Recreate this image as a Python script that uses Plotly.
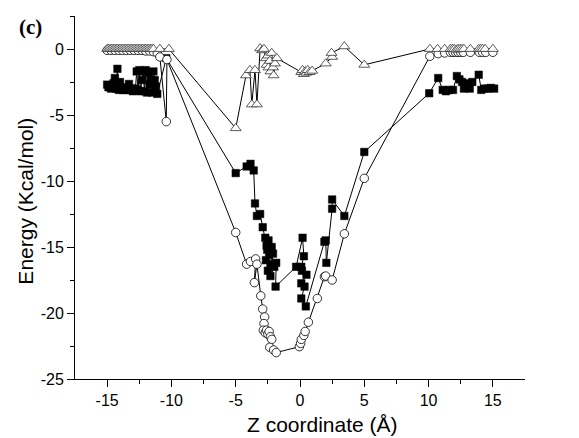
import plotly.graph_objects as go

# ---------------- data ----------------
sq_x = [-15.0, -14.9, -14.8, -14.7, -14.6, -14.5, -14.4, -14.3, -14.2, -14.1, -14.0, -13.9, -13.8,
        -13.7, -13.6, -13.5, -13.4, -13.3, -13.2, -13.1, -13.0, -12.9, -12.8, -12.7, -12.6, -12.5,
        -12.4, -12.3, -12.2, -12.1, -12.0, -11.9, -11.8, -11.7, -11.6, -11.5, -11.4, -11.3, -11.2,
        -11.1, -10.4,
        -5.0, -4.15, -3.85, -3.6, -3.5, -3.35, -3.1, -2.9, -2.7, -2.6, -2.45, -2.55, -2.4, -2.2,
        -2.65, -2.3, -2.5, -2.1, -2.3, -2.0, -1.85, -1.9,
        -0.3, 0.2, 0.3, 0.1, 0.15, 0.5, 0.1, 0.35, 0.1, 0.45,
        1.9, 2.0, 2.05, 2.5, 2.5, 3.45, 5.0,
        10.05, 10.75, 11.1, 11.35, 11.6, 11.9, 12.2, 12.4, 12.6, 12.75, 12.95, 13.2, 13.4, 13.9,
        14.1, 14.35, 14.6, 14.85, 15.1]
sq_y = [-2.7, -2.9, -2.8, -3.0, -2.9, -2.6, -2.2, -3.0, -1.5, -3.1, -2.5, -3.0, -3.1,
        -2.9, -3.1, -3.0, -3.1, -2.65, -3.1, -3.0, -3.2, -3.1, -3.0, -1.7, -3.1, -1.6,
        -3.2, -2.35, -1.7, -3.2, -1.6, -3.3, -1.8, -2.7, -2.35, -3.3, -1.7, -2.35, -2.85,
        -3.4, -0.7,
        -9.4, -8.9, -8.7, -9.2, -11.7, -12.65, -12.5, -13.5, -14.3, -14.9, -14.5, -15.2, -15.6, -15.0,
        -16.0, -16.3, -16.8, -15.5, -17.2, -16.5, -16.2, -18.0,
        -16.5, -14.3, -15.7, -16.5, -16.8, -17.1, -17.75, -18.0, -18.9, -19.5,
        -14.6, -14.5, -16.2, -12.1, -11.4, -12.65, -7.8,
        -3.35, -2.2, -3.1, -3.2, -3.1, -3.1, -2.05, -2.3, -2.5, -3.0, -2.6, -3.0, -2.5, -1.95,
        -3.1, -3.0, -3.0, -2.95, -3.0]

ci_x = [-15.0, -14.7, -14.4, -14.1, -13.8, -13.5, -13.2, -12.9, -12.6, -12.3, -12.0, -11.7, -11.4,
        -11.1, -10.9, -10.4, -10.35,
        -5.0, -4.15, -3.85, -3.45, -3.55, -3.35, -3.05, -2.9, -2.75, -2.8, -2.85, -2.7, -2.6, -2.5,
        -2.4, -2.3, -2.2, -2.35, -2.05, -1.85,
        -0.05, 0.05, 0.1, 0.3, 0.4, 0.65, 1.35, 1.9, 2.0, 2.5, 3.45, 5.0,
        10.1, 10.75, 11.25, 11.7, 11.9, 12.1, 12.3, 12.5, 12.7, 13.25, 13.95, 14.2, 14.45, 15.0]
ci_y = [-0.1, -0.1, -0.1, -0.1, -0.1, -0.1, -0.1, -0.1, -0.1, -0.1, -0.15, -0.15, -0.2,
        -0.3, -0.6, -5.5, -0.8,
        -13.9, -16.3, -16.1, -15.9, -17.7, -16.3, -18.7, -19.7, -20.3, -20.8, -21.3, -21.5, -21.3, -21.6,
        -21.4, -21.8, -22.0, -22.6, -22.8, -23.0,
        -22.55, -22.3, -22.0, -21.7, -21.4, -20.7, -18.9, -17.25, -17.2, -17.5, -14.0, -9.8,
        -0.55, -0.35, -0.3, -0.25, -0.25, -0.25, -0.25, -0.25, -0.25, -0.25, -0.25, -0.25, -0.25, -0.25]

tr_x = [-15.0, -14.88, -14.76, -14.64, -14.52, -14.4, -14.28, -14.16, -14.04, -13.92, -13.8, -13.68,
        -13.56, -13.44, -13.32, -13.2, -13.08, -12.96, -12.84, -12.72, -12.6, -12.48, -12.36, -12.24,
        -12.12, -12.0, -11.88, -11.76, -11.64, -11.52, -11.4, -10.9, -10.2,
        -5.0, -4.2, -3.9, -3.75, -3.5, -3.35, -3.1, -2.95, -2.8, -2.65, -2.6, -2.5, -2.45, -2.35,
        -2.3, -2.2, -2.1, -2.05, -1.95, -1.8,
        0.1, 0.2, 0.3, 0.4, 0.5, 0.6, 0.75, 0.95, 2.0, 2.5, 2.45, 3.45, 5.0,
        10.1, 10.7, 11.25, 11.7, 11.85, 12.0, 12.15, 12.3, 12.45, 12.6, 12.75, 13.25, 13.9, 14.05,
        14.2, 14.4, 15.0]
tr_y = [0.0, 0.0, 0.0, 0.0, 0.0, 0.0, 0.0, 0.0, 0.0, 0.0, 0.0, 0.0,
        0.0, 0.0, 0.0, 0.0, 0.0, 0.0, 0.0, 0.0, 0.0, 0.0, 0.0, 0.0,
        0.0, 0.0, 0.0, 0.0, 0.0, 0.0, 0.0, 0.0, 0.0,
        -6.0, -2.0, -1.6, -4.2, -1.6, -4.2, 0.05, -0.1, 0.0, -0.7, -1.2, -0.5, -1.4, -0.9,
        -1.7, -0.3, -1.4, -2.0, -1.1, -0.7,
        -1.75, -1.6, -1.9, -1.7, -1.8, -1.6, -1.75, -1.65, -1.1, -0.6, -0.3, 0.2, -1.2,
        0.0, 0.0, 0.0, 0.0, 0.0, 0.0, -0.05, 0.0, 0.0, 0.0, 0.0, 0.0, 0.0, 0.0,
        0.0, 0.0, 0.0]

x_tickvals = [-15, -10, -5, 0, 5, 10, 15]
x_ticktext = ["-15", "-10", "-5", "0", "5", "10", "15"]
x_minor = [-12.5, -7.5, -2.5, 2.5, 7.5, 12.5]
y_tickvals = [-25, -20, -15, -10, -5, 0]
y_ticktext = ["-25", "-20", "-15", "-10", "-5", "0"]
y_minor = [-22.5, -17.5, -12.5, -7.5, -2.5, 2.5]

x_title = "Z coordinate (Å)"
y_title = "Energy (Kcal/mol)"
panel_label = "(c)"

# ---------------- figure ----------------
fig = go.Figure()
fig.add_trace(go.Scatter(
    x=sq_x, y=sq_y, mode="lines+markers",
    line=dict(color="black", width=1),
    marker=dict(symbol="square", size=7.5, color="black", line=dict(color="black", width=0.5)),
))
fig.add_trace(go.Scatter(
    x=ci_x, y=ci_y, mode="lines+markers",
    line=dict(color="black", width=1),
    marker=dict(symbol="circle", size=8.5, color="white", line=dict(color="black", width=0.8)),
))
fig.add_trace(go.Scatter(
    x=tr_x, y=tr_y, mode="lines+markers",
    line=dict(color="black", width=1),
    marker=dict(symbol="triangle-up", size=9.5, color="white", line=dict(color="#333333", width=0.8)),
))

sans = "Liberation Sans, Arial, sans-serif"
axis_font = dict(family=sans, size=16, color="black")

common_axis = dict(
    ticks="outside", ticklen=7, tickwidth=1, tickcolor="black",
    showline=True, linecolor="black", linewidth=1, mirror=False,
    showgrid=False, zeroline=False, tickfont=axis_font, tickmode="array",
)

fig.update_layout(
    width=579, height=438,
    margin=dict(l=75, r=54, t=16, b=59),
    paper_bgcolor="white", plot_bgcolor="white",
    showlegend=False,
    font=axis_font,
    xaxis=dict(
        range=[-17.5, 17.5], tickvals=x_tickvals, ticktext=x_ticktext,
        minor=dict(tickmode="array", tickvals=x_minor, ticks="outside", ticklen=4,
                   tickwidth=1, tickcolor="black", showgrid=False),
        **common_axis,
    ),
    yaxis=dict(
        range=[-25, 2.5], tickvals=y_tickvals, ticktext=y_ticktext,
        minor=dict(tickmode="array", tickvals=y_minor, ticks="outside", ticklen=4,
                   tickwidth=1, tickcolor="black", showgrid=False),
        **common_axis,
    ),
)

fig.add_annotation(
    text=x_title, xref="paper", yref="paper", x=0.55, y=-0.124,
    xanchor="center", yanchor="middle", showarrow=False,
    font=dict(family=sans, size=21, color="black"),
)
fig.add_annotation(
    text=y_title, xref="paper", yref="paper", x=-0.11, y=0.49, textangle=-90,
    xanchor="center", yanchor="middle", showarrow=False,
    font=dict(family=sans, size=21, color="black"),
)
fig.add_annotation(
    text="<b>" + panel_label + "</b>", xref="paper", yref="paper",
    x=-0.13, y=1.008, xanchor="left", yanchor="top", showarrow=False,
    font=dict(family="Liberation Serif, Times New Roman, serif", size=21, color="black"),
)

fig.write_html("out.html")
